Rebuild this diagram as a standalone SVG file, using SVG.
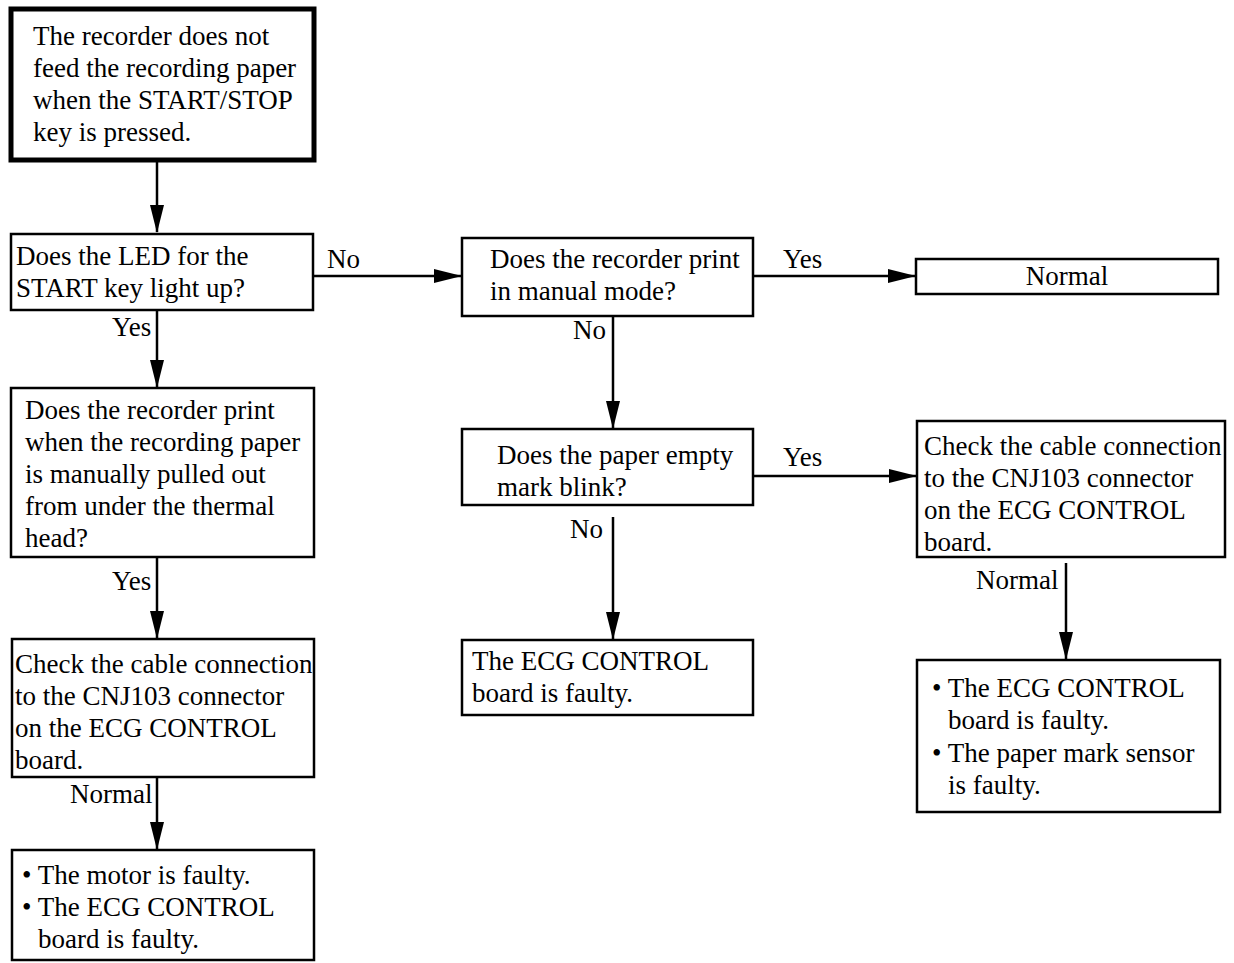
<svg xmlns="http://www.w3.org/2000/svg" width="1234" height="963" viewBox="0 0 1234 963">
<style>
.box{fill:#fff;stroke:#000;stroke-width:2.5}
.thick{fill:#fff;stroke:#000;stroke-width:5}
text{font-family:"Liberation Serif","Times New Roman",serif;font-size:27px;fill:#000}
.c{stroke:#000;stroke-width:2.5;fill:none}
</style>
<defs>
<marker id="ah" markerUnits="userSpaceOnUse" markerWidth="28" markerHeight="16" viewBox="0 0 28 16" refX="27" refY="8" orient="auto">
<path d="M0,1 L28,8 L0,15 Z" fill="#000"/>
</marker>
</defs>
<g id="connectors">
<line class="c" x1="157" y1="162" x2="157" y2="232" marker-end="url(#ah)"/>
<line class="c" x1="313" y1="276" x2="461" y2="276" marker-end="url(#ah)"/>
<line class="c" x1="157" y1="310" x2="157" y2="387" marker-end="url(#ah)"/>
<line class="c" x1="157" y1="557" x2="157" y2="638" marker-end="url(#ah)"/>
<line class="c" x1="157" y1="777" x2="157" y2="849" marker-end="url(#ah)"/>
<line class="c" x1="753" y1="276" x2="915" y2="276" marker-end="url(#ah)"/>
<line class="c" x1="613" y1="316" x2="613" y2="428" marker-end="url(#ah)"/>
<line class="c" x1="753" y1="476" x2="916" y2="476" marker-end="url(#ah)"/>
<line class="c" x1="613" y1="517" x2="613" y2="639" marker-end="url(#ah)"/>
<line class="c" x1="1066" y1="563" x2="1066" y2="659" marker-end="url(#ah)"/>
<text x="327" y="268">No</text>
<text x="112" y="336">Yes</text>
<text x="112" y="590">Yes</text>
<text x="70" y="803">Normal</text>
<text x="783" y="268">Yes</text>
<text x="573" y="339">No</text>
<text x="783" y="466">Yes</text>
<text x="570" y="538">No</text>
<text x="976" y="589">Normal</text>
</g>
<g id="start">
<rect class="thick" x="11" y="9" width="303" height="151"/>
<text x="33" y="45">The recorder does not</text>
<text x="33" y="77">feed the recording paper</text>
<text x="33" y="109">when the START/STOP</text>
<text x="33" y="141">key is pressed.</text>
</g>
<g id="led">
<rect class="box" x="11" y="234" width="302" height="76"/>
<text x="16" y="265">Does the LED for the</text>
<text x="16" y="297">START key light up?</text>
</g>
<g id="pull">
<rect class="box" x="11" y="388" width="303" height="169"/>
<text x="25" y="419">Does the recorder print</text>
<text x="25" y="451">when the recording paper</text>
<text x="25" y="483">is manually pulled out</text>
<text x="25" y="515">from under the thermal</text>
<text x="25" y="547">head?</text>
</g>
<g id="cable1">
<rect class="box" x="12" y="639" width="302" height="138"/>
<text x="15" y="673">Check the cable connection</text>
<text x="15" y="705">to the CNJ103 connector</text>
<text x="15" y="737">on the ECG CONTROL</text>
<text x="15" y="769">board.</text>
</g>
<g id="motor">
<rect class="box" x="12" y="850" width="302" height="110"/>
<text x="22" y="884">• The motor is faulty.</text>
<text x="22" y="916">• The ECG CONTROL</text>
<text x="38" y="948">board is faulty.</text>
</g>
<g id="manual">
<rect class="box" x="462" y="238" width="291" height="78"/>
<text x="490" y="268">Does the recorder print</text>
<text x="490" y="300">in manual mode?</text>
</g>
<g id="normal">
<rect class="box" x="916" y="259" width="302" height="35"/>
<text x="1067" y="285" text-anchor="middle">Normal</text>
</g>
<g id="empty">
<rect class="box" x="462" y="429" width="291" height="76"/>
<text x="497" y="464">Does the paper empty</text>
<text x="497" y="496">mark blink?</text>
</g>
<g id="ecg1">
<rect class="box" x="462" y="640" width="291" height="75"/>
<text x="472" y="670">The ECG CONTROL</text>
<text x="472" y="702">board is faulty.</text>
</g>
<g id="cable2">
<rect class="box" x="917" y="421" width="308" height="136"/>
<text x="924" y="455">Check the cable connection</text>
<text x="924" y="487">to the CNJ103 connector</text>
<text x="924" y="519">on the ECG CONTROL</text>
<text x="924" y="551">board.</text>
</g>
<g id="sensor">
<rect class="box" x="917" y="660" width="303" height="152"/>
<text x="932" y="697">• The ECG CONTROL</text>
<text x="948" y="729">board is faulty.</text>
<text x="932" y="762">• The paper mark sensor</text>
<text x="948" y="794">is faulty.</text>
</g>
</svg>
